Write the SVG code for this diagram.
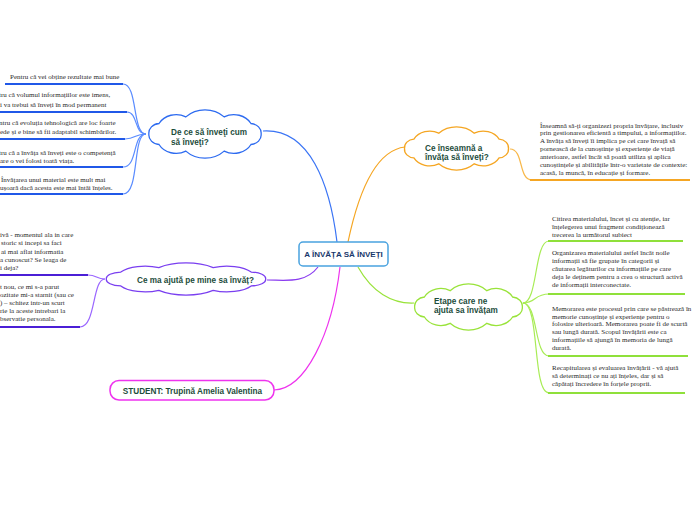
<svg xmlns="http://www.w3.org/2000/svg" xmlns:xlink="http://www.w3.org/1999/xlink" width="696" height="520" viewBox="0 0 696 520">
<style>
.leaf{font-family:"Liberation Serif","Times New Roman",serif;font-size:7px;fill:#2a2a2a}
.ntxt{font-family:"Liberation Sans",Arial,sans-serif;font-size:8.2px;font-weight:bold;fill:#1d4d3b}
.ctxt{font-family:"Liberation Sans",Arial,sans-serif;font-size:8px;font-weight:bold;fill:#18386b}
.cloud{fill:#fff;stroke-width:1.3}
.conn{fill:none;stroke-width:1.2}
.ul{fill:none;stroke-width:2}
</style>
<defs>
<path id="cl" vector-effect="non-scaling-stroke" d="M-46,0 A9,9 0 0 1 -37.7,-9.8 A16,16 0 0 1 -15.7,-16 A22,22 0 0 1 15.7,-16 A16,16 0 0 1 37.7,-9.8 A9,9 0 0 1 46,0 A9,9 0 0 1 37.7,9.8 A16,16 0 0 1 15.7,16 A22,22 0 0 1 -15.7,16 A16,16 0 0 1 -37.7,9.8 A9,9 0 0 1 -46,0 Z"/>
</defs>
<rect width="696" height="520" fill="#fff"/>
<g id="connectors">
<path class="conn" stroke="#3a74f5" d="M337,242 C330,185 310,128 263,131"/>
<path class="conn" stroke="#f5a623" d="M348,242 C360,185 378,150 405,147"/>
<path class="conn" stroke="#8a3cf0" d="M318,267 C305,284 285,280 267,280"/>
<path class="conn" stroke="#ee33ee" d="M340,267 C332,335 305,389 274,390"/>
<path class="conn" stroke="#99e33a" d="M358,267 C372,292 392,304 414,303"/>
<!-- blue leaves -->
<g stroke="#5a8cff" class="conn">
<path d="M123,84 C138,84 132,134 146,134"/>
<path d="M127,112 C138,112 134,134 146,134"/>
<path d="M125,139 C136,139 134,134 146,134"/>
<path d="M123,167 C138,167 132,134 146,134"/>
<path d="M123,194 C140,194 132,134 146,134"/>
</g>
<g stroke="#2058e8" class="ul">
<path d="M5,84 H123"/>
<path d="M0,112 H127"/>
<path d="M0,139 H125"/>
<path d="M0,167 H123"/>
<path d="M0,194 H123"/>
</g>
<!-- orange leaf -->
<path class="conn" stroke="#f8b84a" d="M510,149 C524,149 518,180 532,180"/>
<path class="ul" stroke="#f5a623" d="M530,180 H690"/>
<!-- green leaves -->
<g stroke="#a8ec55" class="conn">
<path d="M523,303 C538,303 534,241 549,241"/>
<path d="M523,303 C536,303 534,294 549,294"/>
<path d="M523,303 C538,303 534,356 549,356"/>
<path d="M523,303 C540,303 532,393 549,393"/>
</g>
<g stroke="#8fe03a" class="ul">
<path d="M548,241 H683"/>
<path d="M548,294 H685"/>
<path d="M548,356 H688"/>
<path d="M548,393 H685"/>
</g>
<!-- purple leaves -->
<g stroke="#9a66ff" class="conn">
<path d="M88,275 C97,275 96,279 105,279"/>
<path d="M80,327 C96,327 92,279 105,279"/>
</g>
<g stroke="#4b1fd6" class="ul">
<path d="M0,275 H88"/>
<path d="M0,327 H80"/>
</g>
</g>
<g id="center">
<rect x="299" y="242" width="89" height="24" rx="4" fill="#fff" stroke="#4aa3df" stroke-width="1.5"/>
<text class="ctxt" x="343.5" y="257" text-anchor="middle">A ÎNVĂȚA SĂ ÎNVEȚI</text>
</g>
<g id="n-dece">
<use xlink:href="#cl" class="cloud" stroke="#2d6bf0" transform="translate(205,134) scale(1.22,1.07)"/>
<text class="ntxt" x="171" y="135">De ce să înveţi cum</text>
<text class="ntxt" x="171" y="145">să înveţi?</text>
</g>
<g id="n-ceinseamna">
<use xlink:href="#cl" class="cloud" stroke="#f5a623" transform="translate(456.5,148.5) scale(1.13,0.96)"/>
<text class="ntxt" x="425" y="151">Ce înseamnă a</text>
<text class="ntxt" x="425" y="160">învăța să înveți?</text>
</g>
<g id="n-etape">
<use xlink:href="#cl" class="cloud" stroke="#99e33a" transform="translate(468.5,307) scale(1.17,1.02)"/>
<text class="ntxt" x="434" y="304">Etape care ne</text>
<text class="ntxt" x="434" y="313">ajuta sa învățam</text>
</g>
<g id="n-ceajuta">
<use xlink:href="#cl" class="cloud" stroke="#7a3ff0" transform="translate(186,279) scale(1.73,0.71)"/>
<text class="ntxt" x="137" y="283">Ce ma ajută pe mine sa învăț?</text>
</g>
<g id="n-student">
<rect x="110" y="380.5" width="164" height="19.5" rx="9" fill="#fff" stroke="#ee33ee" stroke-width="1.5"/>
<text class="ntxt" x="192.5" y="393.5" text-anchor="middle">STUDENT: Trupină Amelia Valentina</text>
</g>
<g id="leaves-blue">
<text class="leaf" x="10" y="79">Pentru că vei obține rezultate mai bune</text>
<text class="leaf" x="-1" y="97">tru că volumul informațiilor este imens,</text>
<text class="leaf" x="0" y="106.5">i va trebui să înveți în mod permanent</text>
<text class="leaf" x="-1" y="125">ntru că evoluția tehnologică are loc foarte</text>
<text class="leaf" x="0" y="134">ede și e bine să fii adaptabil schimbărilor.</text>
<text class="leaf" x="-1" y="154.5">tru că a învăța să înveți este o competență</text>
<text class="leaf" x="0" y="162.5">are o vei folosi toată viața.</text>
<text class="leaf" x="1" y="182">Învățarea unui material este mult mai</text>
<text class="leaf" x="0" y="189.5">ușoară dacă acesta este mai întâi înțeles.</text>
</g>
<g id="leaf-orange">
<text class="leaf" x="540" y="127.5">Înseamnă să-ți organizezi propria învățare, inclusiv</text>
<text class="leaf" x="540" y="135.3">prin gestionarea eficientă a timpului, a informațiilor.</text>
<text class="leaf" x="540" y="143.3">A învăța să înveți îi implica pe cei care învață să</text>
<text class="leaf" x="540" y="151.2">pornească de la cunoștințe și experiențe de viață</text>
<text class="leaf" x="540" y="159.2">anterioare, astfel încât să poată utiliza și aplica</text>
<text class="leaf" x="540" y="167.1">cunoștințele și abilitățile într-o varietate de contexte:</text>
<text class="leaf" x="540" y="175">acasă, la muncă, în educație și formare.</text>
</g>
<g id="leaves-green">
<text class="leaf" x="552" y="221">Citirea materialului, încet și cu atenție, iar</text>
<text class="leaf" x="552" y="229">înțelegerea unui fragment condiționează</text>
<text class="leaf" x="552" y="237">trecerea la următorul subiect</text>
<text class="leaf" x="552" y="255">Organizarea materialului astfel încât noile</text>
<text class="leaf" x="552" y="263">informații să fie grupate în categorii și</text>
<text class="leaf" x="552" y="271">căutarea legăturilor cu informațiile pe care</text>
<text class="leaf" x="552" y="279">deja le deținem pentru a crea o structură activă</text>
<text class="leaf" x="552" y="287">de informații interconectate.</text>
<text class="leaf" x="552" y="311">Memorarea este procesul prin care se păstrează în</text>
<text class="leaf" x="552" y="318.7">memorie cunoștințe și experiențe pentru o</text>
<text class="leaf" x="552" y="326.4">folosire ulterioară. Memorarea poate fi de scurtă</text>
<text class="leaf" x="552" y="334.1">sau lungă durată. Scopul învățării este ca</text>
<text class="leaf" x="552" y="341.8">informațiile să ajungă în memoria de lungă</text>
<text class="leaf" x="552" y="349.5">durată.</text>
<text class="leaf" x="552" y="370">Recapitularea și evaluarea învățării - vă ajută</text>
<text class="leaf" x="552" y="378">să determinați ce nu ați înțeles, dar și să</text>
<text class="leaf" x="552" y="386">căpătați încredere în forțele proprii.</text>
</g>
<g id="leaves-purple">
<text class="leaf" x="0" y="237">ivă - momentul ala in care</text>
<text class="leaf" x="1" y="245.3">storic si incepi sa faci</text>
<text class="leaf" x="1" y="253.7">ai mai aflat informatia</text>
<text class="leaf" x="0" y="262">a cunoscut? Se leaga de</text>
<text class="leaf" x="0" y="269.7">i deja?</text>
<text class="leaf" x="0" y="288.7">t nou, ce mi s-a parut</text>
<text class="leaf" x="0" y="297">ozitate mi-a starnit (sau ce</text>
<text class="leaf" x="0" y="305.3">) – schitez intr-un scurt</text>
<text class="leaf" x="0" y="313">rie la aceste intrebari la</text>
<text class="leaf" x="0" y="321.3">bservatie personala.</text>
</g>
</svg>
